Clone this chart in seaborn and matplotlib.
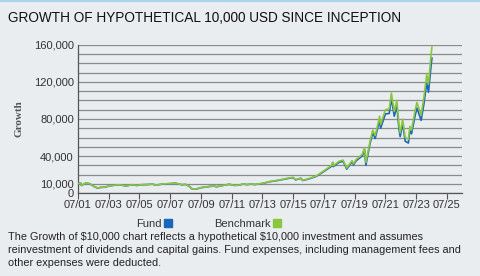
import pandas as pd
import matplotlib.pyplot as plt
import matplotlib.dates as mdates
from matplotlib.lines import Line2D
import seaborn as sns

# valores (aprox.)
datas = ['2001-07-01', '2001-09-01', '2001-09-21', '2001-12-31', '2002-03-31', '2002-07-15',
         '2002-10-09', '2002-12-31', '2003-03-31', '2003-06-30', '2003-12-31', '2004-03-31',
         '2004-08-15', '2004-12-31', '2005-04-30', '2005-07-31', '2005-12-31', '2006-04-30',
         '2006-07-31', '2006-12-31', '2007-06-30', '2007-10-31', '2008-03-31', '2008-06-30',
         '2008-09-30', '2008-11-20', '2009-03-09', '2009-06-30', '2009-12-31', '2010-04-30',
         '2010-07-01', '2010-12-31', '2011-04-30', '2011-08-31', '2011-12-31', '2012-03-31',
         '2012-06-30', '2012-09-30', '2012-12-31', '2013-06-30', '2013-12-31', '2014-06-30',
         '2014-12-31', '2015-06-30', '2015-08-25', '2015-12-31', '2016-02-11', '2016-06-30',
         '2016-12-31', '2017-06-30', '2017-12-31', '2018-01-26', '2018-02-08', '2018-06-30',
         '2018-09-30', '2018-12-24', '2019-04-30', '2019-06-03', '2019-07-31', '2019-12-31',
         '2020-02-19', '2020-03-23', '2020-06-30', '2020-09-02', '2020-10-30', '2020-12-31',
         '2021-02-12', '2021-03-08', '2021-06-30', '2021-09-30', '2021-11-19', '2022-01-27',
         '2022-03-29', '2022-05-20', '2022-06-16', '2022-08-15', '2022-10-13', '2022-12-28',
         '2023-02-02', '2023-03-13', '2023-05-31', '2023-07-19', '2023-10-26', '2023-12-31',
         '2024-03-07', '2024-04-19', '2024-06-20', '2024-07-10']

benchmark = [10000, 11000, 8200, 10800, 10200, 7200,
             5300, 6200, 6300, 7600, 8800, 8900,
             7700, 9000, 8200, 9000, 9200, 9700,
             8600, 9800, 10200, 10700, 9000, 9400,
             7300, 4700, 4400, 5800, 7000, 7700,
             6800, 8500, 9500, 8300, 8600, 9900,
             9100, 9800, 9200, 10500, 12500, 13800,
             15500, 17000, 14500, 16200, 13800, 15500,
             18500, 24000, 30000, 33500, 29500, 34500,
             35500, 27000, 35000, 31500, 36000, 42000,
             49000, 33000, 56000, 68000, 62000, 74000,
             83000, 74000, 90000, 91000, 108000, 88000,
             100000, 73000, 65000, 80000, 60000, 58000,
             72000, 68000, 88000, 98000, 84000, 103000,
             128000, 118000, 150000, 158000]

fund = [10000, 10900, 8100, 10700, 10100, 7100,
        5200, 6100, 6200, 7500, 8700, 8800,
        7600, 8900, 8100, 8900, 9100, 9600,
        8500, 9700, 10100, 10600, 8900, 9300,
        7200, 4600, 4300, 5700, 6900, 7600,
        6700, 8400, 9400, 8200, 8500, 9800,
        9000, 9700, 9100, 10300, 12300, 13500,
        15200, 16600, 14200, 15800, 13500, 15100,
        18000, 23300, 29000, 32400, 28500, 33300,
        34200, 25800, 33700, 30200, 34600, 40300,
        47000, 30000, 53500, 65000, 59000, 70500,
        79000, 70000, 85500, 86000, 102000, 83000,
        94000, 68500, 61000, 75000, 56000, 54000,
        67500, 64000, 82500, 92000, 78500, 96000,
        119000, 109000, 138000, 146000]

rotulos_y = {0: '0', 10000: '10,000', 40000: '40,000', 80000: '80,000',
             120000: '120,000', 160000: '160,000'}

titulo = 'GROWTH OF HYPOTHETICAL 10,000 USD SINCE INCEPTION'
nota = ('The Growth of \\$10,000 chart reflects a hypothetical \\$10,000 investment and assumes\n'
        'reinvestment of dividends and capital gains. Fund expenses, including management fees and\n'
        'other expenses were deducted.')

cor_fundo = '#e9edf0'
cor_fund = '#1a66b8'
cor_bench = '#8cc63f'

sns.set_theme(style='white')
plt.rcParams['font.family'] = ['Liberation Sans', 'DejaVu Sans']

df = pd.DataFrame({
    'data': pd.to_datetime(datas * 2),
    'valor': fund + benchmark,
    'serie': ['Fund'] * len(fund) + ['Benchmark'] * len(benchmark),
})

fig = plt.figure(figsize=(4.8, 2.76), dpi=100, facecolor=cor_fundo)
ax = fig.add_axes([78 / 480, 1 - 193 / 276, 384 / 480, 148 / 276])
ax.set_facecolor(cor_fundo)

sns.lineplot(data=df, x='data', y='valor', hue='serie', hue_order=['Fund', 'Benchmark'],
             palette={'Fund': cor_fund, 'Benchmark': cor_bench}, linewidth=1.2,
             legend=False, ax=ax, zorder=3)

ax.set_ylim(0, 160000)
ax.set_xlim(pd.Timestamp('2001-07-01'), pd.Timestamp('2026-06-24'))

ticks_y = list(range(0, 160001, 10000))
ax.set_yticks(ticks_y)
ax.set_yticklabels([rotulos_y.get(t, '') for t in ticks_y])
ax.yaxis.grid(True, color='#8a8a8a', linewidth=0.9)
ax.tick_params(axis='y', length=0, pad=3, labelsize=8, labelcolor='#333333')

ticks_x = [pd.Timestamp(f'{a}-07-01') for a in range(2001, 2026, 2)]
ax.set_xticks(ticks_x)
ax.xaxis.set_major_formatter(mdates.DateFormatter('%m/%y'))
ax.tick_params(axis='x', length=4, width=0.8, color='#555555', pad=1,
               labelsize=8, labelcolor='#333333', bottom=True)

for lado in ['top', 'right']:
    ax.spines[lado].set_visible(False)
for lado in ['left', 'bottom']:
    ax.spines[lado].set_color('#555555')
    ax.spines[lado].set_linewidth(0.9)

ax.set_xlabel('')
ax.set_ylabel('Growth', family='Liberation Serif', fontweight='bold', fontsize=8,
              color='#555555')
ax.yaxis.set_label_coords(-0.143, 0.5)

fig.add_artist(Line2D([0, 1], [0.998, 0.998], color='#a9d4f0', linewidth=1.5))
fig.text(8 / 480, 1 - 18 / 276, titulo, fontsize=9.8, color='#111111', va='center')

handles = [Line2D([], [], marker='s', ls='', color=cor_fund, markersize=6),
           Line2D([], [], marker='s', ls='', color=cor_bench, markersize=6)]
fig.legend(handles, ['Fund', 'Benchmark'], ncol=2, markerfirst=False, frameon=False,
           loc='center', bbox_to_anchor=(209 / 480, 1 - 224 / 276), fontsize=8,
           handletextpad=0.2, columnspacing=3.7, handlelength=0.8, labelcolor='#333333')

fig.text(8 / 480, 1 - 232 / 276, nota, fontsize=7.8, color='#222222', va='top',
         linespacing=1.38)

plt.savefig('out.png', dpi=100, facecolor=cor_fundo)
plt.close()
